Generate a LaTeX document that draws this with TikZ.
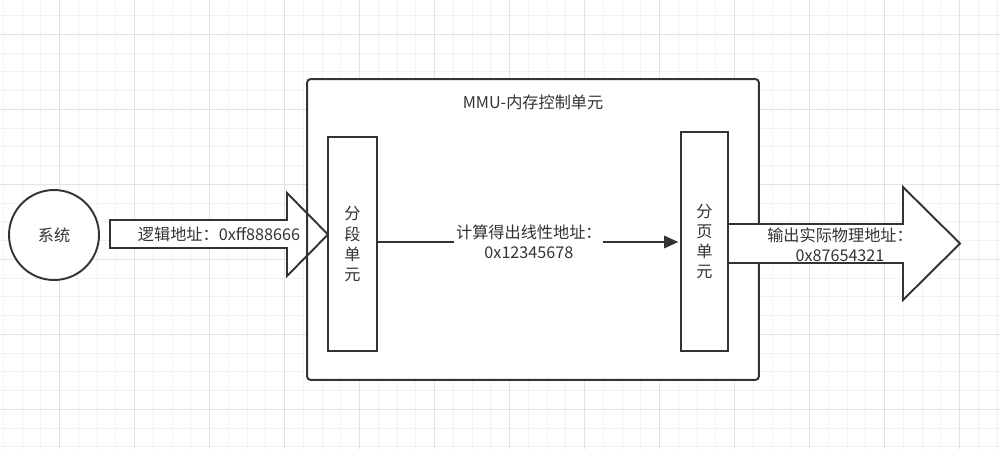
\documentclass[tikz,border=0pt]{standalone}
\usepackage{fontspec}
\setmainfont{Noto Sans CJK SC}
\usetikzlibrary{arrows.meta}
\definecolor{lineGray}{HTML}{333333}
\definecolor{textGray}{HTML}{333333}
\definecolor{gridMinor}{HTML}{F2F2F2}
\definecolor{gridMajor}{HTML}{E2E2E2}

\begin{document}
\begin{tikzpicture}[x=0.02cm, y=-0.02cm]
    \tikzstyle{GridMinor} = [
            draw=gridMinor,
            line width=0.55pt
    ];
    \tikzstyle{GridMajor} = [
            draw=gridMajor,
            line width=0.55pt
    ];
    \tikzstyle{Unit} = [
            draw=lineGray,
            fill=white,
            line width=1.1pt,
            rectangle,
            inner sep=0pt,
            align=center,
            text=textGray,
            font={\fontsize{9.2}{11.4}\selectfont}
    ];
    \tikzstyle{BigArrow} = [
            draw=lineGray,
            fill=white,
            line width=1.1pt,
            line join=miter
    ];
    \tikzstyle{Conn} = [
            draw=lineGray,
            line width=1.1pt,
            shorten >=1pt,
            -{Triangle[length=8pt,width=7pt]}
    ];
    \tikzstyle{Label} = [
            inner sep=1pt,
            align=center,
            text=textGray,
            font={\fontsize{9.2}{11.4}\selectfont}
    ];

    % background and grid
    \fill[white] (0,0) rectangle (1000,449);
    \useasboundingbox (0,0) rectangle (1000,449);
    \foreach \k in {0,...,53}
        \draw[GridMinor] ({3.25+18.75*\k},0) -- ({3.25+18.75*\k},449);
    \foreach \k in {0,...,24}
        \draw[GridMinor] (0,{-3.2+18.75*\k}) -- (1000,{-3.2+18.75*\k});
    \foreach \k in {0,...,12}
        \draw[GridMajor] ({59.5+75*\k},0) -- ({59.5+75*\k},449);
    \foreach \k in {0,...,5}
        \draw[GridMajor] (0,{34.3+75*\k}) -- (1000,{34.3+75*\k});

    % MMU frame (filled first, border drawn again after the input arrow)
    \node[Unit, name=mmu, draw=none, minimum width=9cm, minimum height=5.98cm] at (533,229.5) {};
    \node[Label, name=mmuTitle] at (533,102) {MMU-内存控制单元};

    \node[Unit, name=sys, circle, minimum size=1.8cm] at (54,235) {系统};

    % logical address arrow
    \draw[BigArrow] (110,220) -- (287,220) -- (287,193) -- (328,234.5)
          -- (287,276) -- (287,248) -- (110,248) -- cycle;
    \node[Label, name=logAddr] at (219,234.5) {逻辑地址：0xff888666};

    \draw[draw=lineGray, line width=1.1pt, rounded corners=2pt]
          (mmu.south west) rectangle (mmu.north east);

    \node[Unit, name=seg, minimum width=0.97cm, minimum height=4.28cm] at (352.5,244) {分\\段\\单\\元};
    \node[Unit, name=page, minimum width=0.94cm, minimum height=4.38cm] at (704.5,241.5) {分\\页\\单\\元};

    % physical address arrow
    \draw[BigArrow] (728,224) -- (903,224) -- (903,187) -- (960,243.5)
          -- (903,300) -- (903,263) -- (728,263) -- cycle;
    \node[Label, name=physAddr] at (840,245) {输出实际物理地址：\\0x87654321};

    \coordinate (midY) at (0,242);
    \path (seg.east |- midY) edge[Conn] node[Label, fill=white, midway] {计算得出线性地址：\\0x12345678} (page.west |- midY);
\end{tikzpicture}
\end{document}
